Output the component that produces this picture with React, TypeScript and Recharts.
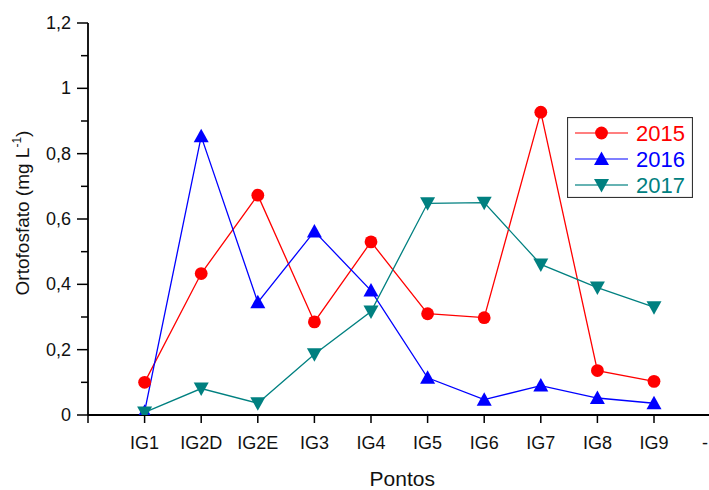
import React from 'react';
import { LineChart, Line, XAxis, YAxis, Legend, Label } from 'recharts';

// pontos de coleta (posicao 0 fica vazia, a ultima e "-")
const pontos = ['IG1', 'IG2D', 'IG2E', 'IG3', 'IG4', 'IG5', 'IG6', 'IG7', 'IG8', 'IG9'];
const xTickLabels = ['', ...pontos, '-'];

// ortofosfato (mg L-1)
const ano2015 = [0.1, 0.433, 0.673, 0.285, 0.53, 0.31, 0.298, 0.927, 0.136, 0.103];
const ano2016 = [0.01, 0.853, 0.345, 0.562, 0.381, 0.114, 0.047, 0.09, 0.052, 0.036];
const ano2017 = [0.008, 0.081, 0.036, 0.186, 0.317, 0.648, 0.65, 0.461, 0.39, 0.33];

const yTicks = [0, 0.1, 0.2, 0.3, 0.4, 0.5, 0.6, 0.7, 0.8, 0.9, 1, 1.1, 1.2];
const yMajor = [0, 0.2, 0.4, 0.6, 0.8, 1, 1.2];
const xTicks = xTickLabels.map((_, i) => i);

const FONT = '"Liberation Sans", Arial, sans-serif';

const series = [
    { key: 'v2015', name: '2015', color: '#ff0000', shape: 'circle' },
    { key: 'v2016', name: '2016', color: '#0000ff', shape: 'up' },
    { key: 'v2017', name: '2017', color: '#008080', shape: 'down' },
];

const data = pontos.map((p, i) => ({
    x: i + 1,
    ponto: p,
    v2015: ano2015[i],
    v2016: ano2016[i],
    v2017: ano2017[i],
}));

const marker = (shape: string, cx: number, cy: number, color: string, key?: any) => {
    if (shape === 'circle') return <circle key={key} cx={cx} cy={cy} r={6.4} fill={color} stroke="none" />;
    if (shape === 'up')
        return <path key={key} d={`M${cx},${cy - 7.5}L${cx + 7.5},${cy + 6}L${cx - 7.5},${cy + 6}Z`} fill={color} />;
    return <path key={key} d={`M${cx},${cy + 7.5}L${cx + 7.5},${cy - 6}L${cx - 7.5},${cy - 6}Z`} fill={color} />;
};

const Y_TICK_SIZE = 11;
const Y_TICK_MARGIN = 6;

const YTick = (props: any) => {
    const { x, y, payload } = props;
    const v = payload.value;
    const isMajor = yMajor.some(m => Math.abs(m - v) < 1e-6);
    const axisX = x + Y_TICK_SIZE + Y_TICK_MARGIN;
    return (
        <g>
            <line x1={axisX - (isMajor ? 11 : 7)} x2={axisX} y1={y} y2={y} stroke="#000" strokeWidth={1.5} />
            {isMajor && (
                <text x={x} y={y} dy={6} textAnchor="end" fontSize={18} fontFamily={FONT} fill="#111">
                    {String(v).replace('.', ',')}
                </text>
            )}
        </g>
    );
};

const XTick = (props: any) => {
    const { x, y, payload } = props;
    const label = xTickLabels[payload.value] ?? '';
    const last = payload.value === xTickLabels.length - 1;
    return (
        <text x={last ? Math.min(x, 708) : x} y={y} dy={20} textAnchor={last ? 'end' : 'middle'}
            fontSize={18} fontFamily={FONT} fill="#111">
            {label}
        </text>
    );
};

const renderYLabel = (props: any) => {
    const vb = props.viewBox;
    const cy = vb.y + vb.height / 2 - 6;
    const cx = 29;
    return (
        <text x={cx} y={cy} textAnchor="middle" transform={`rotate(-90, ${cx}, ${cy})`}
            fontSize={19} fontFamily={FONT} fill="#111">
            Ortofosfato (mg L<tspan dy={-8} fontSize={12}>-1</tspan><tspan dy={8}>)</tspan>
        </text>
    );
};

const renderXLabel = (props: any) => {
    const vb = props.viewBox;
    return (
        <text x={vb.x + vb.width / 2 + 3} y={vb.y + vb.height + 31} textAnchor="middle"
            fontSize={21} fontFamily={FONT} fill="#111">
            Pontos
        </text>
    );
};

const LegendBox = () => (
    <svg width={126} height={81} style={{ display: 'block' }}>
        <rect x={0.5} y={0.5} width={125} height={80} fill="#fff" stroke="#333" strokeWidth={1.2} />
        {series.map((s, i) => {
            const y = 16 + i * 26;
            return (
                <g key={s.key}>
                    <line x1={8} x2={61} y1={y} y2={y} stroke={s.color} strokeWidth={s.shape === 'down' ? 2 : 1.2}
                        strokeOpacity={s.shape === 'down' ? 0.6 : 1} />
                    {marker(s.shape, 34.5, y, s.color)}
                    <text x={69} y={y + 8} fontSize={22} fontFamily={FONT} fill={s.color}>{s.name}</text>
                </g>
            );
        })}
    </svg>
);

const App: React.FC = () => {
    return (
        <div style={{ position: 'absolute', left: 0, top: 0, width: 709, height: 490, overflow: 'hidden', background: '#fff' }}>
            <LineChart width={730} height={490} data={data} margin={{ top: 23, right: 19.4, bottom: 35, left: 0 }}>
                <XAxis
                    dataKey="x"
                    type="number"
                    domain={[0, 11]}
                    ticks={xTicks}
                    interval={0}
                    height={40}
                    allowDataOverflow
                    tickSize={8}
                    tickMargin={6}
                    tick={<XTick />}
                    axisLine={{ stroke: '#000', strokeWidth: 1.8 }}
                    tickLine={{ stroke: '#000', strokeWidth: 1.5 }}
                >
                    <Label content={renderXLabel} />
                </XAxis>
                <YAxis
                    type="number"
                    domain={[0, 1.2]}
                    ticks={yTicks}
                    interval={0}
                    width={88}
                    allowDataOverflow
                    tickSize={Y_TICK_SIZE}
                    tickMargin={Y_TICK_MARGIN}
                    tickLine={false}
                    tick={<YTick />}
                    axisLine={{ stroke: '#000', strokeWidth: 1.8 }}
                >
                    <Label content={renderYLabel} />
                </YAxis>
                <Legend
                    layout="horizontal"
                    verticalAlign="middle"
                    align="center"
                    content={() => <LegendBox />}
                    wrapperStyle={{ left: 567, top: 117, width: 126, height: 81 }}
                />
                {series.map(s => (
                    <Line
                        key={s.key}
                        dataKey={s.key}
                        name={s.name}
                        type="linear"
                        stroke={s.color}
                        strokeWidth={1.3}
                        isAnimationActive={false}
                        dot={(p: any) => marker(s.shape, p.cx, p.cy, s.color, `${s.key}-${p.index}`)}
                        activeDot={false}
                    />
                ))}
            </LineChart>
        </div>
    );
};

export default App;
